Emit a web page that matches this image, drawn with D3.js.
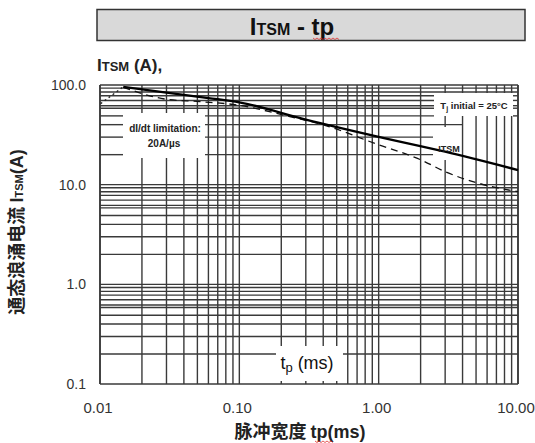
<!DOCTYPE html>
<html><head><meta charset="utf-8">
<script src="https://cdn.jsdelivr.net/npm/d3@7"></script>
<style>
html,body{margin:0;padding:0;background:#fff;}
svg{display:block;}
text{font-family:"Liberation Sans",Arial,sans-serif;}
.cjk{font-family:"Noto Sans CJK SC","Liberation Sans",sans-serif;}
</style></head>
<body><div id="chart"></div>
<script>
// ---- data ----
const xTickValues = [0.01, 0.1, 1, 10];
const xTickLabels = ["0.01", "0.10", "1.00", "10.00"];
const yTickValues = [0.1, 1, 10, 100];
const yTickLabels = ["0.1", "1.0", "10.0", "100.0"];
const hGridMultipliers = [9.3, 8.5, 7.8, 7, 6.2, 5.85, 4.9, 4, 3, 2];
const vGridMultipliers = [2, 3, 4, 5, 6, 7, 8, 9];
const tpSolid   = [0.0147, 0.03, 0.06, 0.1, 0.3, 1, 3, 10];
const itsmSolid = [96, 84, 74, 67, 45, 30.2, 21.4, 14];
const tpDashed   = [0.0147, 0.03, 0.052, 0.096, 0.23, 0.4, 1, 2, 3, 5, 10];
const itsmDashed = [94.8, 71.9, 68.1, 63.1, 48.2, 39.8, 25.1, 17.8, 13.5, 10.5, 8.5];
const tpDotted   = [0.0101, 0.0147];
const itsmDotted = [65, 96];

// ---- layout ----
const W = 535, H = 443;
const L = 100, R = 518, T = 85, B = 384;
const svg = d3.select("#chart").append("svg").attr("width", W).attr("height", H);

const x = d3.scaleLog().domain([0.01, 10]).range([L, R]);
const y = d3.scaleLog().domain([0.1, 100]).range([B, T]);

// Title box
svg.append("rect").attr("x", 97).attr("y", 9.5).attr("width", 428).attr("height", 31)
  .attr("fill", "#d9d9d9").attr("stroke", "#333").attr("stroke-width", 1.5);
const title = svg.append("text").attr("x", 292).attr("y", 35).attr("text-anchor", "middle")
  .attr("font-weight", "bold").attr("fill", "#111");
title.append("tspan").attr("font-size", 24).text("I");
title.append("tspan").attr("font-size", 16).text("TSM");
title.append("tspan").attr("font-size", 24).text(" - tp");
// spell-check squiggle
function squiggle(x0, x1, yy) {
  let d = `M${x0},${yy}`;
  for (let xx = x0, k = 0; xx < x1; xx += 2, k++) d += `L${xx + 2},${yy + (k % 2 ? 0 : 1.5)}`;
  svg.append("path").attr("d", d).attr("fill", "none").attr("stroke", "#e03030").attr("stroke-width", 0.8);
}
squiggle(313, 339, 38);

// ITSM (A), label
const ul = svg.append("text").attr("x", 97).attr("y", 71).attr("font-weight", "bold").attr("fill", "#222");
ul.append("tspan").attr("font-size", 17).text("I");
ul.append("tspan").attr("font-size", 13).text("TSM");
ul.append("tspan").attr("font-size", 17).text(" (A),");

// ---- grid ----
const grid = svg.append("g").attr("stroke", "#3a3a3a").attr("stroke-width", 1.4).attr("fill", "none");
const decadesY = [0.1, 1, 10];
const hVals = [];
decadesY.forEach(d => hGridMultipliers.forEach(m => hVals.push(d * m)));
yTickValues.forEach(v => hVals.push(v));
const decadesX = [0.01, 0.1, 1];
const vVals = [];
decadesX.forEach(d => vGridMultipliers.forEach(m => vVals.push(d * m)));
xTickValues.forEach(v => vVals.push(v));

// boxes that hide the grid (pixel rectangles of annotation labels)
const boxes = [
  {x0: 123, x1: 205, y0: 113, y1: 158},   // dI/dt limitation
  {x0: 434, x1: 513, y0: 93, y1: 116},    // Tj initial
  {x0: 433, x1: 462, y0: 127, y1: 160},   // ITSM label
  {x0: 276, x1: 343, y0: 346, y1: 381},   // tp (ms)
  {x0: 462, x1: 519, y0: 117, y1: 161, hOnly: true}
];
function segments(a0, a1, cuts) {
  cuts.sort((p, q) => p[0] - q[0]);
  const out = []; let s = a0;
  cuts.forEach(c => { if (c[0] > s) out.push([s, Math.min(c[0], a1)]); s = Math.max(s, c[1]); });
  if (s < a1) out.push([s, a1]);
  return out;
}
hVals.forEach(v => {
  const yy = y(v);
  const isBorder = (v === 100 || Math.abs(v - 0.1) < 1e-9);
  const cuts = isBorder ? [] : boxes.filter(b => yy > b.y0 && yy < b.y1).map(b => [b.x0, b.x1]);
  segments(L, R, cuts).forEach(s => grid.append("line").attr("x1", s[0]).attr("x2", s[1]).attr("y1", yy).attr("y2", yy));
});
vVals.forEach(v => {
  const xx = x(v);
  const isBorder = (Math.abs(v - 0.01) < 1e-9 || v === 10);
  const cuts = isBorder ? [] : boxes.filter(b => !b.hOnly && xx > b.x0 && xx < b.x1).map(b => [b.y0, b.y1]);
  segments(T, B, cuts).forEach(s => grid.append("line").attr("x1", xx).attr("x2", xx).attr("y1", s[0]).attr("y2", s[1])
    .attr("stroke-width", isBorder ? 1.9 : 1.4));
});

// ---- curves ----
const line = d3.line().x(d => x(d[0])).y(d => y(d[1])).curve(d3.curveMonotoneX);
svg.append("path").datum(tpDashed.map((t, i) => [t, itsmDashed[i]]))
  .attr("d", line).attr("fill", "none").attr("stroke", "#111").attr("stroke-width", 1.3).attr("stroke-dasharray", "7,5");
svg.append("path").datum(tpDotted.map((t, i) => [t, itsmDotted[i]]))
  .attr("d", d3.line().x(d => x(d[0])).y(d => y(d[1]))).attr("fill", "none").attr("stroke", "#222")
  .attr("stroke-width", 1.4).attr("stroke-dasharray", "2,3");
svg.append("path").datum(tpSolid.map((t, i) => [t, itsmSolid[i]]))
  .attr("d", line).attr("fill", "none").attr("stroke", "#000").attr("stroke-width", 2.3);

// ---- annotations ----
svg.append("text").attr("x", 165).attr("y", 132).attr("text-anchor", "middle").attr("font-size", 10)
  .attr("font-weight", "bold").attr("fill", "#222").text("dI/dt limitation:");
svg.append("text").attr("x", 164).attr("y", 147).attr("text-anchor", "middle").attr("font-size", 10)
  .attr("font-weight", "bold").attr("fill", "#222").text("20A/µs");
const tj = svg.append("text").attr("x", 474).attr("y", 109).attr("text-anchor", "middle").attr("font-size", 9.5)
  .attr("font-weight", "bold").attr("fill", "#222");
tj.append("tspan").text("T");
tj.append("tspan").attr("font-size", 7).attr("dy", 2).text("j");
tj.append("tspan").attr("dy", -2).text(" initial = 25°C");
svg.append("text").attr("x", 449).attr("y", 152).attr("text-anchor", "middle").attr("font-size", 9)
  .attr("font-weight", "bold").attr("fill", "#222").text("ITSM");
const tpl = svg.append("text").attr("x", 307).attr("y", 369).attr("text-anchor", "middle").attr("font-size", 18)
  .attr("fill", "#111");
tpl.append("tspan").text("t");
tpl.append("tspan").attr("font-size", 13).attr("dy", 3).text("p");
tpl.append("tspan").attr("dy", -3).text(" (ms)");

// ---- tick labels ----
svg.append("g").selectAll("text").data(xTickValues).join("text")
  .attr("x", d => x(d) - 2).attr("y", 413).attr("text-anchor", "middle").attr("font-size", 15)
  .attr("fill", "#333").text((d, i) => xTickLabels[i]);
svg.append("g").selectAll("text").data(yTickValues).join("text")
  .attr("x", 86).attr("y", d => y(d) + 5).attr("text-anchor", "end").attr("font-size", 14)
  .attr("fill", "#333").text((d, i) => yTickLabels[i]);

// ---- axis titles ----
const xt = svg.append("text").attr("x", 300).attr("y", 438).attr("text-anchor", "middle")
  .attr("font-weight", "bold").attr("fill", "#222").attr("font-size", 18);
xt.append("tspan").attr("class", "cjk").text("脉冲宽度 ");
xt.append("tspan").text("tp(ms)");
squiggle(315, 333, 441);

const yt = svg.append("text").attr("transform", "translate(23,232) rotate(-90)").attr("text-anchor", "middle")
  .attr("font-weight", "bold").attr("fill", "#222").attr("font-size", 18);
yt.append("tspan").attr("class", "cjk").text("通态浪涌电流 ");
yt.append("tspan").text("I");
yt.append("tspan").attr("font-size", 11).text("TSM");
yt.append("tspan").text("(A)");
</script>
</body></html>
